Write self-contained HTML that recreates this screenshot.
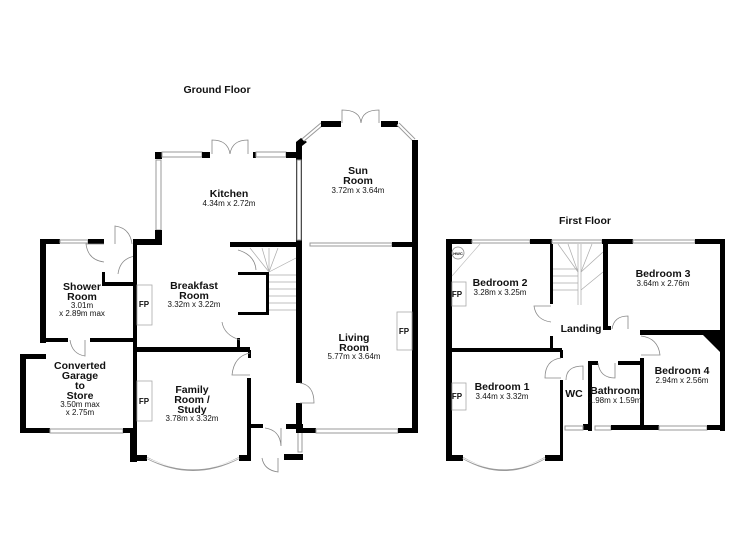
<!DOCTYPE html>
<html><head><meta charset="utf-8"><style>
html,body{margin:0;padding:0;background:#fff}
svg{display:block}
text{font-family:"Liberation Sans",sans-serif;fill:#111}
.t{font-weight:bold;font-size:10.5px}
.s{font-size:8px}
.w{fill:#000}
.win{fill:#fff;stroke:#999;stroke-width:1}
.d{fill:none;stroke:#888;stroke-width:0.8}
.fp{fill:#fff;stroke:#aaa;stroke-width:0.8}
</style></head><body>
<svg width="750" height="545" viewBox="0 0 750 545" xmlns="http://www.w3.org/2000/svg">
<text x="217" y="93" class="t" text-anchor="middle">Ground Floor</text>
<text x="585" y="224" class="t" text-anchor="middle">First Floor</text>

<!-- GROUND FLOOR -->
<g>
<rect class="w" x="155" y="152" width="7" height="7"/>
<rect class="win" x="156" y="160" width="5" height="70"/>
<rect class="w" x="155" y="230" width="7" height="14"/>
<rect class="w" x="133" y="239" width="29" height="6"/>
<rect class="win" x="162" y="152" width="40" height="5"/>
<rect class="w" x="202" y="152" width="8" height="6"/>
<rect class="w" x="253" y="152" width="3" height="6"/>
<rect class="win" x="256" y="152" width="30" height="5"/>
<rect class="w" x="286" y="152" width="16" height="6"/>
<path class="d" d="M212 154 V140 Q228 140 230 154 M248 154 V140 Q232 140 230 154"/>
<!-- sun room -->
<rect class="w" x="296" y="142" width="6" height="241"/>
<rect class="w" x="296" y="403" width="6" height="30"/>
<rect class="win" x="297" y="160" width="4" height="80"/>
<polygon class="w" points="296,142 301,138 307,142 302,146"/>
<line x1="303" y1="140" x2="322" y2="124" stroke="#999" stroke-width="4"/>
<line x1="303" y1="140" x2="322" y2="124" stroke="#fff" stroke-width="2"/>
<rect class="w" x="321" y="121" width="20" height="6"/>
<rect class="w" x="381" y="121" width="17" height="6"/>
<path class="d" d="M342 123 V110 Q360 110 361 123 M379 123 V110 Q362 110 361 123"/>
<line x1="398" y1="124" x2="414" y2="140" stroke="#999" stroke-width="4"/>
<line x1="398" y1="124" x2="414" y2="140" stroke="#fff" stroke-width="2"/>
<rect class="w" x="412" y="140" width="6" height="292"/>
<rect class="w" x="230" y="242" width="72" height="5"/>
<rect class="win" x="310" y="243" width="82" height="3"/>
<rect class="w" x="392" y="242" width="26" height="5"/>
<!-- stairs niche -->
<rect class="w" x="238" y="272" width="31" height="3"/>
<rect class="w" x="238" y="312" width="31" height="3"/>
<rect class="w" x="266" y="272" width="3" height="43"/>
<g stroke="#aaa" stroke-width="0.7">
<line x1="269" y1="275" x2="296" y2="275"/><line x1="269" y1="282" x2="296" y2="282"/>
<line x1="269" y1="289" x2="296" y2="289"/><line x1="269" y1="296" x2="296" y2="296"/>
<line x1="269" y1="303" x2="296" y2="303"/><line x1="269" y1="310" x2="296" y2="310"/>
<line x1="269" y1="272" x2="250" y2="248"/><line x1="269" y1="272" x2="262" y2="248"/>
<line x1="269" y1="272" x2="278" y2="248"/><line x1="269" y1="272" x2="296" y2="258"/>
<line x1="269" y1="248" x2="269" y2="272"/>
</g>
<path class="d" d="M238 250 Q255 255 256 270"/>
<rect class="w" x="237" y="338" width="3" height="12"/>
<path class="d" d="M240 340 Q224 335 222 322"/>
<rect class="w" x="248" y="350" width="3" height="8"/>
<rect class="w" x="137" y="347" width="113" height="5"/>
<!-- shower room -->
<rect class="w" x="40" y="239" width="6" height="104"/>
<rect class="w" x="40" y="239" width="20" height="5"/>
<rect class="win" x="60" y="240" width="28" height="3"/>
<rect class="w" x="88" y="239" width="16" height="5"/>
<rect class="w" x="102" y="282" width="34" height="4"/>
<rect class="w" x="102" y="272" width="3" height="12"/>
<path class="d" d="M104 244 H86 Q88 260 104 262 M115 244 V226 Q130 228 132 244 M136 256 Q120 258 118 274"/>
<rect class="w" x="133" y="239" width="4" height="223"/>
<!-- garage -->
<rect class="w" x="46" y="338" width="22" height="4"/>
<rect class="w" x="90" y="338" width="46" height="4"/>
<path class="d" d="M70 340 Q72 354 85 356 V340"/>
<rect class="w" x="20" y="354" width="26" height="5"/>
<rect class="w" x="20" y="354" width="6" height="79"/>
<rect class="w" x="20" y="428" width="30" height="5"/>
<rect class="win" x="50" y="429" width="73" height="4"/>
<rect class="w" x="123" y="428" width="14" height="5"/>
<rect class="w" x="130" y="428" width="7" height="34"/>
<!-- family room -->
<rect class="w" x="133" y="455" width="14" height="6"/>
<rect class="w" x="239" y="455" width="12" height="6"/>
<path d="M147 458 Q193 482 239 458" fill="none" stroke="#999" stroke-width="2"/>
<path d="M147 458 Q193 480 239 458" fill="none" stroke="#fff" stroke-width="0.8"/>
<rect class="w" x="247" y="378" width="4" height="83"/>
<path class="d" d="M250 353 Q234 356 232 375 H250"/>
<!-- porch -->
<rect class="w" x="250" y="424" width="13" height="4"/>
<rect class="w" x="286" y="424" width="17" height="5"/>
<rect class="win" x="298" y="430" width="4" height="22"/>
<rect class="w" x="284" y="454" width="19" height="6"/>
<path class="d" d="M265 428 Q280 430 281 446 V428 M262 458 Q264 470 278 472 V458"/>
<path class="d" d="M300 383 Q314 385 314 403 H300"/>
<rect class="w" x="296" y="428" width="20" height="5"/>
<rect class="win" x="316" y="429" width="82" height="4"/>
<rect class="w" x="398" y="428" width="20" height="5"/>
<rect class="fp" x="397" y="312" width="15" height="38"/>
<rect class="fp" x="137" y="285" width="15" height="40"/>
<rect class="fp" x="137" y="381" width="15" height="40"/>
</g>
<text class="t" x="229" y="197" text-anchor="middle">Kitchen</text>
<text class="s" x="229" y="206" text-anchor="middle">4.34m x 2.72m</text>
<text class="t" x="358" y="174" text-anchor="middle">Sun</text>
<text class="t" x="358" y="184" text-anchor="middle">Room</text>
<text class="s" x="358" y="193" text-anchor="middle">3.72m x 3.64m</text>
<text class="t" x="194" y="289" text-anchor="middle">Breakfast</text>
<text class="t" x="194" y="299" text-anchor="middle">Room</text>
<text class="s" x="194" y="307" text-anchor="middle">3.32m x 3.22m</text>
<text class="t" x="82" y="290" text-anchor="middle">Shower</text>
<text class="t" x="82" y="300" text-anchor="middle">Room</text>
<text class="s" x="82" y="308" text-anchor="middle">3.01m</text>
<text class="s" x="82" y="316" text-anchor="middle">x 2.89m max</text>
<text class="t" x="354" y="341" text-anchor="middle">Living</text>
<text class="t" x="354" y="351" text-anchor="middle">Room</text>
<text class="s" x="354" y="359" text-anchor="middle">5.77m x 3.64m</text>
<text class="t" x="80" y="369" text-anchor="middle">Converted</text>
<text class="t" x="80" y="379" text-anchor="middle">Garage</text>
<text class="t" x="80" y="389" text-anchor="middle">to</text>
<text class="t" x="80" y="399" text-anchor="middle">Store</text>
<text class="s" x="80" y="407" text-anchor="middle">3.50m max</text>
<text class="s" x="80" y="415" text-anchor="middle">x 2.75m</text>
<text class="t" x="192" y="393" text-anchor="middle">Family</text>
<text class="t" x="192" y="403" text-anchor="middle">Room /</text>
<text class="t" x="192" y="413" text-anchor="middle">Study</text>
<text class="s" x="192" y="421" text-anchor="middle">3.78m x 3.32m</text>
<text class="t" x="144" y="307" text-anchor="middle" style="font-size:8px">FP</text>
<text class="t" x="144" y="404" text-anchor="middle" style="font-size:8px">FP</text>
<text class="t" x="404" y="334" text-anchor="middle" style="font-size:8px">FP</text>

<!-- FIRST FLOOR -->
<g>
<rect class="w" x="446" y="239" width="6" height="222"/>
<rect class="w" x="446" y="239" width="26" height="5"/>
<rect class="win" x="472" y="240" width="58" height="3"/>
<rect class="w" x="530" y="239" width="22" height="5"/>
<rect class="win" x="552" y="240" width="50" height="3"/>
<rect class="w" x="602" y="239" width="31" height="5"/>
<rect class="win" x="633" y="240" width="62" height="3"/>
<rect class="w" x="695" y="239" width="30" height="5"/>
<rect class="w" x="720" y="239" width="5" height="192"/>
<rect class="w" x="452" y="348" width="110" height="4"/>
<rect class="w" x="550" y="244" width="3" height="60"/>
<rect class="w" x="550" y="336" width="3" height="14"/>
<path class="d" d="M551 322 Q536 320 534 306 H551"/>
<g stroke="#aaa" stroke-width="0.7">
<line x1="553" y1="290" x2="578" y2="290"/><line x1="553" y1="283" x2="578" y2="283"/>
<line x1="553" y1="276" x2="578" y2="276"/><line x1="553" y1="269" x2="578" y2="269"/>
<line x1="578" y1="244" x2="578" y2="305"/><line x1="581" y1="244" x2="581" y2="305"/>
<line x1="578" y1="272" x2="558" y2="244"/><line x1="578" y1="272" x2="568" y2="244"/>
<line x1="581" y1="272" x2="592" y2="244"/><line x1="581" y1="272" x2="603" y2="252"/>
<line x1="581" y1="290" x2="603" y2="272"/>
</g>
<rect class="w" x="603" y="244" width="5" height="86"/>
<rect class="w" x="603" y="326" width="8" height="4"/>
<rect class="w" x="640" y="330" width="85" height="5"/>
<polygon class="w" points="700,332 725,332 725,357"/>
<path class="d" d="M612 329 Q614 316 628 316 V329 M641 336 Q658 338 660 355 H641"/>
<rect class="w" x="640" y="358" width="4" height="72"/>
<rect class="w" x="588" y="361" width="10" height="4"/>
<rect class="w" x="618" y="361" width="24" height="4"/>
<rect class="w" x="588" y="361" width="4" height="70"/>
<path class="d" d="M598 363 Q600 378 615 378 V363"/>
<rect class="w" x="560" y="350" width="3" height="8"/>
<rect class="w" x="560" y="380" width="3" height="80"/>
<path class="d" d="M561 358 Q545 360 545 378 H561 M566 380 Q566 366 583 366 V380"/>
<rect class="w" x="583" y="424" width="5" height="6"/>
<rect class="win" x="565" y="426" width="18" height="4"/>
<rect class="win" x="595" y="426" width="16" height="4"/>
<rect class="w" x="611" y="425" width="48" height="5"/>
<rect class="win" x="659" y="426" width="48" height="4"/>
<rect class="w" x="707" y="425" width="18" height="5"/>
<rect class="w" x="446" y="455" width="17" height="6"/>
<rect class="w" x="545" y="455" width="18" height="6"/>
<path d="M463 458 Q504 482 545 458" fill="none" stroke="#999" stroke-width="2"/>
<path d="M463 458 Q504 480 545 458" fill="none" stroke="#fff" stroke-width="0.8"/>
<rect class="fp" x="452" y="282" width="14" height="24"/>
<rect class="fp" x="452" y="383" width="14" height="27"/>
<circle cx="458" cy="253" r="6" fill="#fff" stroke="#888" stroke-width="0.8"/>
<line x1="452" y1="276" x2="480" y2="244" stroke="#bbb" stroke-width="0.6"/>
<text x="458" y="255" text-anchor="middle" style="font-size:4px;font-weight:bold">HWC</text>
</g>
<text class="t" x="500" y="286" text-anchor="middle">Bedroom 2</text>
<text class="s" x="500" y="295" text-anchor="middle">3.28m x 3.25m</text>
<text class="t" x="663" y="277" text-anchor="middle">Bedroom 3</text>
<text class="s" x="663" y="286" text-anchor="middle">3.64m x 2.76m</text>
<text class="t" x="581" y="332" text-anchor="middle">Landing</text>
<text class="t" x="502" y="390" text-anchor="middle">Bedroom 1</text>
<text class="s" x="502" y="399" text-anchor="middle">3.44m x 3.32m</text>
<text class="t" x="574" y="397" text-anchor="middle">WC</text>
<text class="t" x="615" y="394" text-anchor="middle">Bathroom</text>
<text class="s" x="615" y="403" text-anchor="middle">1.98m x 1.59m</text>
<text class="t" x="682" y="374" text-anchor="middle">Bedroom 4</text>
<text class="s" x="682" y="383" text-anchor="middle">2.94m x 2.56m</text>
<text class="t" x="457" y="297" text-anchor="middle" style="font-size:8px">FP</text>
<text class="t" x="457" y="399" text-anchor="middle" style="font-size:8px">FP</text>
</svg>
</body></html>
